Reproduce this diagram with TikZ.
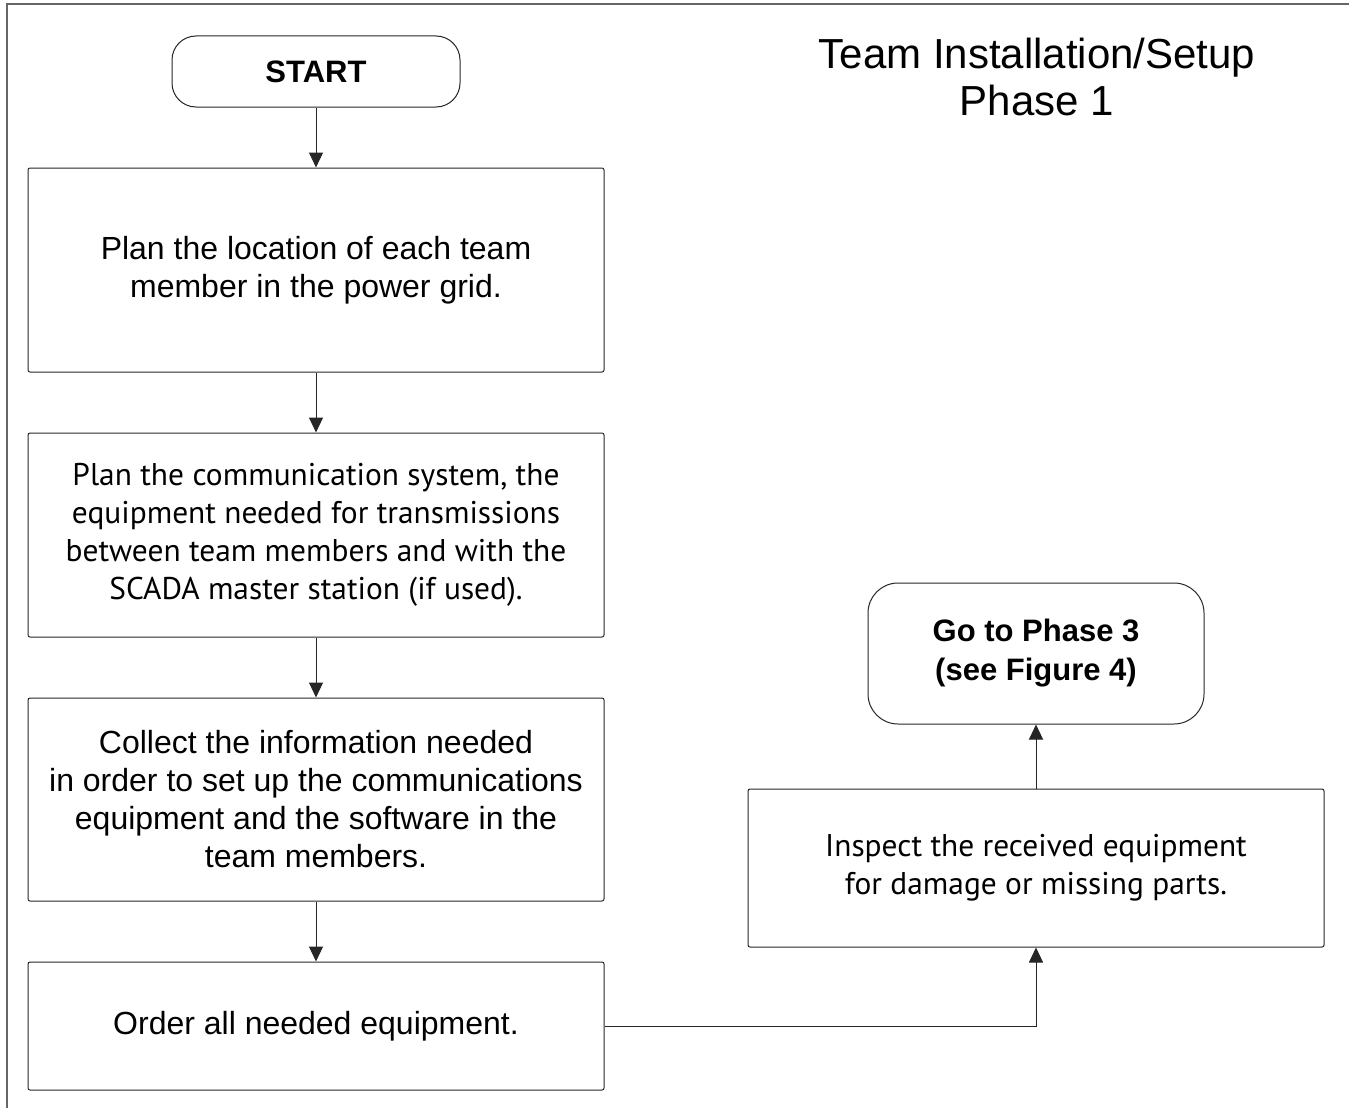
\documentclass[tikz,border=0pt]{standalone}
\usepackage{fontspec}
\setmainfont{Liberation Sans}
\newfontfamily\myriad{PT Sans}
\usetikzlibrary{positioning,arrows.meta}
\tikzset{
  stepbox/.style={draw=black!85, line width=1pt, rounded corners=2pt, minimum width=576pt, align=center, inner sep=0pt, font=\fontsize{32}{38}\selectfont},
  stepmyr/.style={stepbox, font=\myriad\fontsize{31.4}{38}\selectfont},
  endbox/.style={draw=black!85, line width=1pt, align=center, inner sep=0pt, font=\bfseries\fontsize{31}{39}\selectfont},
  link/.style={draw=black!85, line width=1pt, -{Triangle[length=15pt,width=14pt]}}
}

\begin{document}
\begin{tikzpicture}[x=1pt, y=-1pt]
  \useasboundingbox (0,0) rectangle (1349,1108);
  \draw[black!60, line width=2pt] (1349,4) -- (7,4) -- (7,1108);

  \node[font=\fontsize{42}{47}\selectfont, align=center] (title) at (1037,77) {Team Installation/Setup\\Phase 1};

  \node[endbox, rounded corners=24pt, minimum width=288pt, minimum height=71pt] (start) at (316,71.5) {START};
  \node[stepbox, minimum height=204pt, below=60pt of start] (locate) {Plan the location of each team\\member in the power grid.};
  \node[stepmyr, minimum height=204pt, below=60pt of locate] (comms) {Plan the communication system, the\\equipment needed for transmissions\\between team members and with the\\SCADA master station (if used).};
  \node[stepbox, minimum height=203pt, below=60pt of comms] (collect) {Collect the information needed\\in order to set up the communications\\equipment and the software in the\\team members.};
  \node[stepbox, minimum height=128pt, below=60pt of collect] (order) {Order all needed equipment.};

  \node[stepmyr, minimum height=158pt] (inspect) at (1036,868) {Inspect the received equipment\\for damage or missing parts.};
  \node[endbox, rounded corners=30pt, minimum width=336pt, minimum height=141pt, above=64pt of inspect] (phase3) {Go to Phase 3\\(see Figure 4)};

  \draw[link] (start) -- (locate);
  \draw[link] (locate) -- (comms);
  \draw[link] (comms) -- (collect);
  \draw[link] (collect) -- (order);
  \draw[link] (order.east) -| (inspect.south);
  \draw[link] (inspect) -- (phase3);
\end{tikzpicture}
\end{document}
